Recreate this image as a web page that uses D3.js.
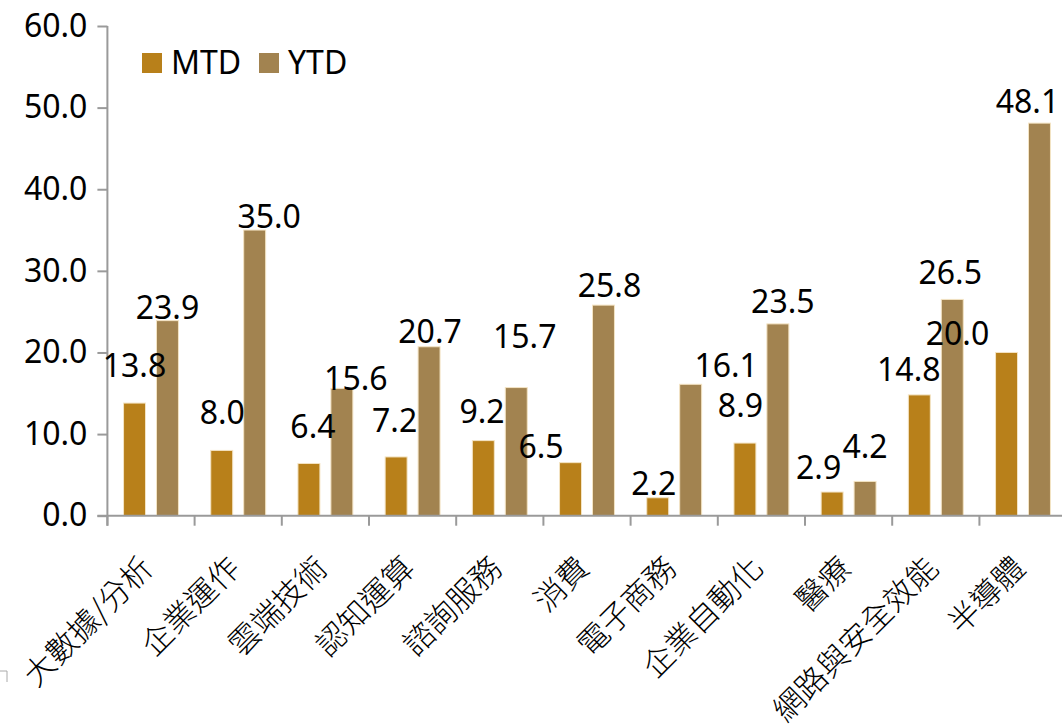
<!DOCTYPE html>
<html>
<head>
<meta charset="utf-8">
<script src="https://cdn.jsdelivr.net/npm/d3@7"></script>
<style>
  html, body { margin: 0; padding: 0; background: #fff; }
  svg { display: block; }
  text { font-family: "Noto Sans", "Noto Sans CJK TC", sans-serif; fill: #000; }
</style>
</head>
<body>
<svg id="chart" width="1062" height="726"></svg>
<script>
// ---- data ----
const categories = ["大數據/分析", "企業運作", "雲端技術", "認知運算", "諮詢服務", "消費", "電子商務", "企業自動化", "醫療", "網路與安全效能", "半導體"];
const seriesNames = ["MTD", "YTD"];
const mtd = [13.8, 8.0, 6.4, 7.2, 9.2, 6.5, 2.2, 8.9, 2.9, 14.8, 20.0];
const ytd = [23.9, 35.0, 15.6, 20.7, 15.7, 25.8, 16.1, 23.5, 4.2, 26.5, 48.1];
const yTicks = [0, 10, 20, 30, 40, 50, 60];

// label nudges (pixels, relative to bar top centre) reproducing the manual label placement
const mtdLabelNudge = [[0,-26],[0.5,-26],[4,-25.5],[-1.5,-25],[-1.3,-18],[-29.5,-4.5],[-4,-3],[-4.5,-26],[-13.5,-13],[-10.5,-14],[-49,-7]];
const ytdLabelNudge = [[0,-1.5],[14.5,-2],[14,1.5],[1,-4],[8.5,-40],[6,-8.5],[35.5,-7],[5,-11],[0,-23],[-2,-15],[-12,-10]];

const colors = { MTD: "#b8801a", YTD: "#a28350" };
const values = { MTD: mtd, YTD: ytd };
const nudges = { MTD: mtdLabelNudge, YTD: ytdLabelNudge };

const svg = d3.select("#chart");
const plotLeft = 107.4, plotBottom = 515.7, plotTop = 26, band = 87.2;
const FS = 32;

const y = d3.scaleLinear().domain([0, 60]).range([plotBottom, plotTop]);
const x0 = d3.scaleBand().domain(categories).range([plotLeft, plotLeft + band * categories.length]).padding(0);
const x1 = d3.scaleBand().domain(seriesNames).range([0, x0.bandwidth()]).paddingInner(1/3).paddingOuter(0.49);

const axisColor = "#9a9a9a";

// bars
seriesNames.forEach(s => {
  svg.append("g").selectAll("rect")
    .data(categories.map((c, i) => ({ c, v: values[s][i] })))
    .join("rect")
    .attr("x", d => x0(d.c) + x1(s))
    .attr("y", d => y(d.v))
    .attr("width", x1.bandwidth())
    .attr("height", d => y(0) - y(d.v))
    .attr("fill", colors[s])
    .attr("stroke", "#f4e4c4")
    .attr("stroke-width", 1);
});

// y axis
const yAxis = d3.axisLeft(y).tickValues(yTicks).tickFormat(d3.format(".1f")).tickSize(10).tickSizeOuter(0).tickPadding(10);
const gy = svg.append("g").attr("transform", `translate(${plotLeft},0)`).call(yAxis);
gy.select(".domain").attr("stroke", axisColor).attr("stroke-width", 2).attr("d", `M0,${plotTop}V${plotBottom + 10}`);
gy.selectAll(".tick line").attr("stroke", axisColor).attr("stroke-width", 2);
gy.selectAll(".tick text").attr("font-size", FS).attr("font-family", "Noto Sans, sans-serif").attr("fill", "#000");

// x axis line and ticks at band boundaries
svg.append("line").attr("x1", plotLeft - 10).attr("x2", 1062).attr("y1", plotBottom).attr("y2", plotBottom)
  .attr("stroke", axisColor).attr("stroke-width", 2);
svg.append("g").selectAll("line").data(categories).join("line")
  .attr("x1", d => x0(d)).attr("x2", d => x0(d))
  .attr("y1", plotBottom).attr("y2", plotBottom + 10)
  .attr("stroke", axisColor).attr("stroke-width", 2);

// category labels
svg.append("g").selectAll("text").data(categories).join("text")
  .attr("transform", d => `translate(${x0(d) + x0.bandwidth() / 2 + 4},570) rotate(-45)`)
  .attr("text-anchor", "end")
  .style("font-size", "31px")
  .style("font-family", "'Noto Sans CJK TC', sans-serif")
  .style("font-weight", 300)
  .text(d => d);

// value labels
seriesNames.forEach(s => {
  svg.append("g").selectAll("text")
    .data(categories.map((c, i) => ({ c, v: values[s][i], n: nudges[s][i] })))
    .join("text")
    .attr("x", d => x0(d.c) + x1(s) + x1.bandwidth() / 2 + d.n[0])
    .attr("y", d => y(d.v) + d.n[1])
    .attr("text-anchor", "middle")
    .attr("font-size", FS)
    .text(d => d3.format(".1f")(d.v));
});

// legend
const legend = svg.append("g").attr("transform", "translate(142,53)");
seriesNames.forEach((s, i) => {
  const g = legend.append("g").attr("transform", `translate(${i * 117},0)`);
  g.append("rect").attr("width", 20).attr("height", 20).attr("fill", colors[s]);
  g.append("text").attr("x", 29).attr("y", 21).attr("font-size", FS).text(s);
});

// small corner mark at bottom left
svg.append("path").attr("d", "M0,671H7V682").attr("fill", "none").attr("stroke", "#aaa").attr("stroke-width", 1);
</script>
</body>
</html>
